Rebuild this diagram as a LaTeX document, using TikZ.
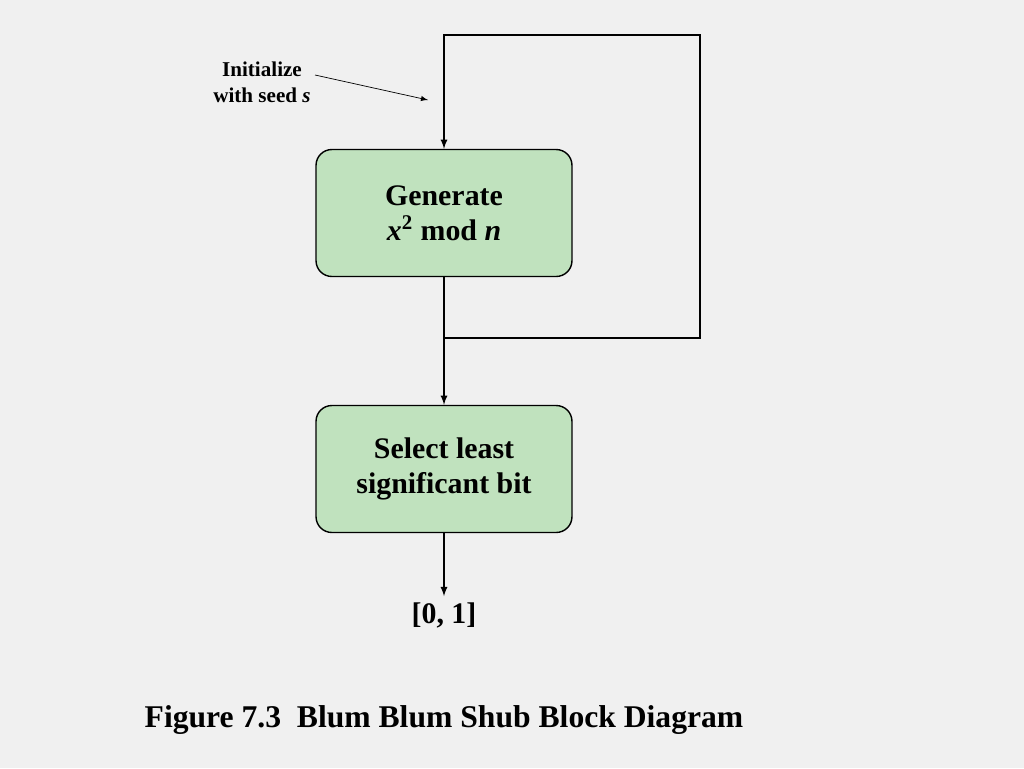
\documentclass[tikz,border=0pt]{standalone}
\usepackage{fontspec}
\setmainfont{Liberation Serif}
\usetikzlibrary{arrows,positioning}
\definecolor{boxgreen}{RGB}{192,226,190}
\definecolor{paper}{RGB}{240,240,240}
\tikzset{>=latex}
\tikzset{
     block/.style={draw,thick,fill=boxgreen,rounded corners=9pt,minimum width=5.12cm,minimum height=2.54cm,align=center,font=\fontsize{17}{20}\selectfont\bfseries},
     flow/.style={->,thick},
}
\begin{document}
\begin{tikzpicture}[x=0.02cm,y=-0.02cm]
		\fill[paper] (0,0) rectangle (1024,768);
		\useasboundingbox (0,0) rectangle (1024,768);

		\node[block] (gen) at (444,213) {Generate\\\textit{x}\textsuperscript{2} mod \textit{n}};
		\node[block] (sel) at (444,469) {Select least\\significant bit};
		\node[font=\fontsize{17}{20}\selectfont\bfseries] (out) at (444,615) {[0, 1]};
		\node[align=center,font=\fontsize{12}{15}\selectfont\bfseries] (init) at (262,82) {Initialize\\with seed \textit{s}};
		\node[font=\fontsize{18}{20}\selectfont\bfseries] (cap) at (444,720) {Figure 7.3\ \ Blum Blum Shub Block Diagram};

		\coordinate (split) at (444,338);
		\coordinate (initstart) at (315,75);
		\coordinate (initend) at (428,100);

		\draw[thick] (gen.south) -- (split) -| (700,35) -| (444,80);
		\draw[flow] (444,78) -- (gen.north);
		\draw[flow] (split) -- (sel.north);
		\draw[flow] (sel.south) -- (out.north);
		\draw[->] (initstart) -- (initend);
\end{tikzpicture}
\end{document}
